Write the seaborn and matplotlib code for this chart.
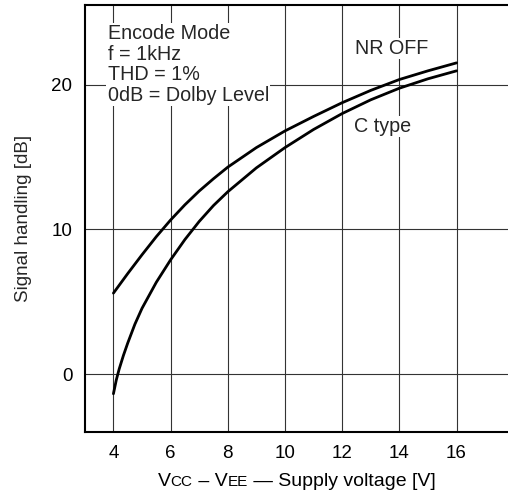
import pandas as pd
import matplotlib.pyplot as plt
import seaborn as sns
from matplotlib.offsetbox import TextArea, HPacker, AnchoredOffsetbox

# values
voltage_nr = [4, 4.5, 5, 5.5, 6, 6.5, 7, 7.5, 8, 9, 10, 11, 12, 13, 14, 15, 16]
nr_off = [5.6, 6.95, 8.25, 9.5, 10.65, 11.7, 12.65, 13.5, 14.3, 15.65, 16.8,
          17.8, 18.75, 19.6, 20.35, 20.95, 21.5]
voltage_c = [4, 4.1, 4.2, 4.35, 4.5, 4.75, 5, 5.5, 6, 6.5, 7, 7.5, 8, 9, 10,
             11, 12, 13, 14, 15, 16]
c_type = [-1.35, -0.4, 0.35, 1.3, 2.15, 3.45, 4.55, 6.35, 7.9, 9.3, 10.55,
          11.65, 12.6, 14.25, 15.65, 16.9, 18.0, 18.95, 19.75, 20.4, 20.95]
x_ticks = [4, 6, 8, 10, 12, 14, 16]
y_ticks = [0, 10, 20]

df = pd.concat([
    pd.DataFrame({'V': voltage_nr, 'dB': nr_off, 'mode': 'NR OFF'}),
    pd.DataFrame({'V': voltage_c, 'dB': c_type, 'mode': 'C type'}),
])

sns.set_style('white')
plt.rcParams['font.family'] = ['Liberation Sans', 'DejaVu Sans']

fig = plt.figure(figsize=(5.08, 4.95), dpi=100)
ax = fig.add_axes([0.167, 0.127, 0.833, 0.863])

sns.lineplot(data=df, x='V', y='dB', units='mode', estimator=None,
             color='black', linewidth=2, legend=False, ax=ax, sort=False)

ax.set_xlim(3, 17.8)
ax.set_ylim(-4, 25.5)
ax.set_xticks(x_ticks)
ax.set_yticks(y_ticks)
ax.grid(True, color='#333333', linewidth=0.8)
ax.tick_params(length=0, pad=9, labelsize=13.5, colors='black')
for s in ['left', 'bottom', 'top']:
    ax.spines[s].set_color('black')
    ax.spines[s].set_linewidth(1.5)
ax.spines['right'].set_visible(False)

ax.set_xlabel('')
ax.set_ylabel('Signal handling [dB]', fontsize=13.5, labelpad=14)

box = dict(facecolor='white', edgecolor='none', pad=1)
ax.text(3.8, 24.15, 'Encode Mode\nf = 1kHz\nTHD = 1%\n0dB = Dolby Level',
        fontsize=14.2, va='top', ha='left', linespacing=1.09, bbox=box)
ax.text(12.45, 22.5, 'NR OFF', fontsize=14.2, va='center', ha='left', bbox=box)
ax.text(12.4, 17.1, 'C type', fontsize=14.2, va='center', ha='left', bbox=box)

# x label with small capitals for CC / EE
big = dict(fontsize=14, color='black')
small = dict(fontsize=11, color='black')
parts = [TextArea('V', textprops=big), TextArea('CC', textprops=small),
         TextArea(' – V', textprops=big), TextArea('EE', textprops=small),
         TextArea(' — Supply voltage [V]', textprops=big)]
pack = HPacker(children=parts, align='baseline', pad=0, sep=0)
anch = AnchoredOffsetbox(loc='upper center', child=pack, frameon=False,
                         bbox_to_anchor=(0.5, -0.095), bbox_transform=ax.transAxes,
                         borderpad=0, pad=0)
ax.add_artist(anch)

plt.savefig('out.png', dpi=100)
